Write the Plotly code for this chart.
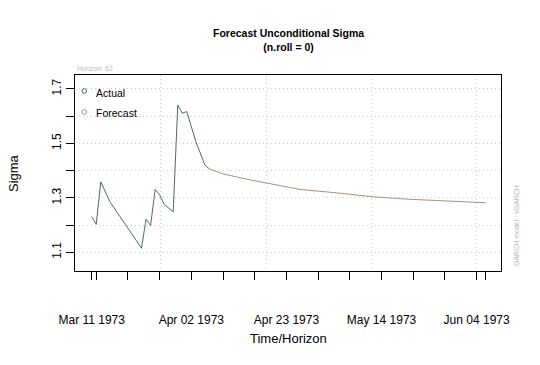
import plotly.graph_objects as go

# ---- data ----
actual_dates = ["1973-03-11", "1973-03-12", "1973-03-13", "1973-03-14", "1973-03-15",
                "1973-03-22", "1973-03-23", "1973-03-24", "1973-03-25", "1973-03-26",
                "1973-03-27", "1973-03-29", "1973-03-30", "1973-03-31", "1973-04-01",
                "1973-04-03", "1973-04-05", "1973-04-06"]
actual_sigma = [1.231, 1.203, 1.359, 1.323, 1.286,
                1.115, 1.222, 1.198, 1.331, 1.311,
                1.276, 1.249, 1.641, 1.611, 1.617,
                1.506, 1.421, 1.406]

forecast_dates = ["1973-04-06", "1973-04-09", "1973-04-15", "1973-04-19", "1973-04-26",
                  "1973-05-05", "1973-05-12", "1973-05-20", "1973-05-27", "1973-06-06"]
forecast_sigma = [1.406, 1.388, 1.366, 1.354, 1.331,
                  1.317, 1.304, 1.295, 1.289, 1.282]

x_tick_vals = ["1973-03-11", "1973-03-12", "1973-03-19", "1973-03-26", "1973-04-02",
               "1973-04-09", "1973-04-16", "1973-04-23", "1973-04-30", "1973-05-07",
               "1973-05-14", "1973-05-21", "1973-05-28", "1973-06-04", "1973-06-06"]
x_tick_text = ["Mar 11 1973", "", "", "", "Apr 02 1973",
               "", "", "Apr 23 1973", "", "",
               "May 14 1973", "", "", "Jun 04 1973", ""]
x_grid_vals = ["1973-03-26 07:00", "1973-04-18 14:00", "1973-05-11 19:00", "1973-06-03 22:00"]

y_tick_vals = [1.1, 1.2, 1.3, 1.4, 1.5, 1.6, 1.7]
y_tick_text = ["1.1", "", "1.3", "", "1.5", "", "1.7"]

series_names = ["Actual", "Forecast"]
horizon = 62
model_name = "sGARCH"

# ---- styling ----
col_actual = "#4e6a6e"
col_forecast = "#a89282"
grid_col = "#cccccc"
font_family = "Liberation Sans, Arial, sans-serif"

L, R, T, B = 75, 39, 75, 94
W, H = 540, 365
pw, ph = W - L - R, H - T - B


def px(x):
    return (x - L) / pw


def py(y):
    return (H - B - y) / ph


fig = go.Figure()
fig.add_trace(go.Scatter(x=actual_dates, y=actual_sigma, mode="lines",
                         line=dict(color=col_actual, width=1), name=series_names[0],
                         showlegend=False))
fig.add_trace(go.Scatter(x=forecast_dates, y=forecast_sigma, mode="lines",
                         line=dict(color=col_forecast, width=1), name=series_names[1],
                         showlegend=False))

fig.update_layout(
    width=W, height=H,
    margin=dict(l=L, r=R, t=T, b=B, autoexpand=False),
    paper_bgcolor="white", plot_bgcolor="white",
    font=dict(family=font_family, size=12, color="black"),
    showlegend=False,
)

fig.update_xaxes(
    type="date", automargin=False,
    range=["1973-03-07 07:26", "1973-06-09 09:07"],
    tickmode="array", tickvals=x_tick_vals, ticktext=x_tick_text,
    ticks="outside", ticklen=8, tickcolor="black", tickwidth=1,
    ticklabelstandoff=30,
    showgrid=False, zeroline=False,
    showline=True, linecolor="black", linewidth=1, mirror=True,
    minor=dict(tickmode="array", tickvals=x_grid_vals, showgrid=True,
               gridcolor=grid_col, griddash="1px,3px", gridwidth=1, ticks=""),
    tickfont=dict(size=12),
)
fig.update_yaxes(
    automargin=False,
    range=[1.0313, 1.7514],
    tickmode="array", tickvals=y_tick_vals, ticktext=y_tick_text,
    tickangle=-90,
    ticks="outside", ticklen=8, tickcolor="black", tickwidth=1,
    ticklabelstandoff=0,
    showgrid=True, gridcolor=grid_col, griddash="1px,3px", gridwidth=1,
    zeroline=False,
    showline=True, linecolor="black", linewidth=1, mirror=True,
    tickfont=dict(size=12),
)

ann = []
ann.append(dict(text="<b>Forecast Unconditional Sigma</b><br><b>(n.roll = 0)</b>",
                x=0.5, y=py(39.5), xref="paper", yref="paper",
                xanchor="center", yanchor="middle", showarrow=False,
                font=dict(size=10.5, color="black")))
ann.append(dict(text="Horizon: %d" % horizon, x=px(75), y=py(68.7), xref="paper", yref="paper",
                xanchor="left", yanchor="middle", showarrow=False,
                font=dict(size=7, color="#b8b8b8")))
ann.append(dict(text="GARCH model : %s" % model_name, x=px(516), y=py(226), xref="paper",
                yref="paper", xanchor="center", yanchor="middle", textangle=-90,
                showarrow=False, font=dict(size=7, color="#b8b8b8")))
ann.append(dict(text="Sigma", x=px(13), y=0.5, xref="paper", yref="paper",
                xanchor="center", yanchor="middle", textangle=-90, showarrow=False,
                font=dict(size=13)))
ann.append(dict(text="Time/Horizon", x=px(288), y=py(338), xref="paper", yref="paper",
                xanchor="center", yanchor="middle", showarrow=False,
                font=dict(size=13)))
ann.append(dict(text=series_names[0], x=px(94.3), y=py(93), xref="paper", yref="paper",
                xanchor="left", yanchor="middle", showarrow=False, font=dict(size=10.5)))
ann.append(dict(text=series_names[1], x=px(94.3), y=py(113), xref="paper", yref="paper",
                xanchor="left", yanchor="middle", showarrow=False, font=dict(size=10.5)))
fig.update_layout(annotations=ann)

shapes = []
for cy, c in [(91, col_actual), (112, col_forecast)]:
    r = 2.3
    shapes.append(dict(type="circle", xref="paper", yref="paper",
                       x0=px(84.3 - r), x1=px(84.3 + r), y0=py(cy + r), y1=py(cy - r),
                       line=dict(color=c, width=1)))
fig.update_layout(shapes=shapes)

fig.write_html("out.html", config={"displayModeBar": False},
               post_script="document.body.style.margin='0px';document.body.style.padding='0px';")
